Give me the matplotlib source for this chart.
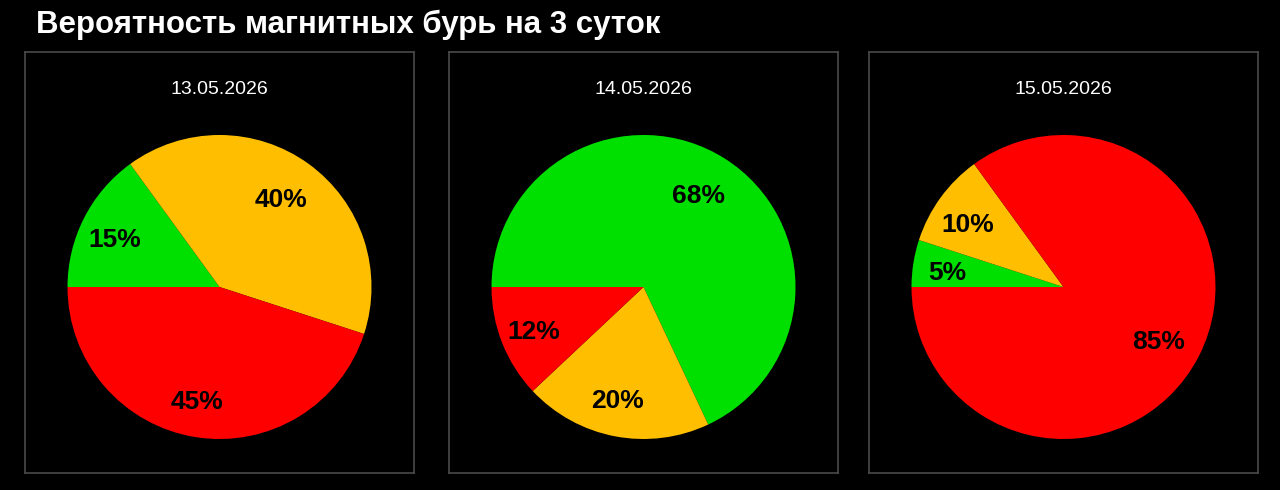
import matplotlib
matplotlib.use("Agg")
import matplotlib.pyplot as plt
import numpy as np

# Data
title = "Вероятность магнитных бурь на 3 суток"
dates = ["13.05.2026", "14.05.2026", "15.05.2026"]
green_vals = [15, 68, 5]
yellow_vals = [40, 20, 10]
red_vals = [45, 12, 85]
colors = ["#00e000", "#ffbf00", "#ff0000"]

plt.rcParams["font.family"] = ["Liberation Sans", "DejaVu Sans"]

W, H = 1280, 490
fig = plt.figure(figsize=(W / 100, H / 100), dpi=100, facecolor="black")

def px_axes(x0, y0, x1, y1):
    # pixel box (top-left origin) -> figure axes
    return fig.add_axes([x0 / W, 1 - y1 / H, (x1 - x0) / W, (y1 - y0) / H])

fig.text(36 / W, 1 - 33 / H, title, color="white", fontsize=22.5, fontweight="bold",
         ha="left", va="baseline")

box_lefts = [25, 449, 869]
box_w = 389
r = 152

for i, date in enumerate(dates):
    bx0 = box_lefts[i]
    bx1 = bx0 + box_w
    box = px_axes(bx0, 52, bx1, 473)
    box.set_facecolor("black")
    box.set_xticks([])
    box.set_yticks([])
    for s in box.spines.values():
        s.set_color("#4a4a4a")
        s.set_linewidth(1.2)
    cx = (bx0 + bx1) / 2
    fig.text(cx / W, 1 - 90 / H, date, color="white", fontsize=14,
             ha="center", va="center")

    ax = px_axes(cx - r, 287 - r, cx + r, 287 + r)
    ax.set_facecolor("none")
    vals = [green_vals[i], yellow_vals[i], red_vals[i]]
    ax.pie(vals, colors=colors, startangle=180, counterclock=False,
           radius=1, wedgeprops=dict(linewidth=0))
    total = sum(vals)
    theta = 180.0
    for v in vals:
        span = 360.0 * v / total
        mid = np.deg2rad(theta - span / 2)
        # small shift to match label placement of the original
        ax.text(0.74 * np.cos(mid) - 5 / r, 0.74 * np.sin(mid) - 4 / r, f"{v}%",
                color="black", fontsize=19, fontweight="bold", ha="center", va="center")
        theta -= span
    ax.set_xlim(-1, 1)
    ax.set_ylim(-1, 1)
    ax.set_aspect("equal")
    ax.axis("off")

fig.savefig("out.png", dpi=100, facecolor="black")
